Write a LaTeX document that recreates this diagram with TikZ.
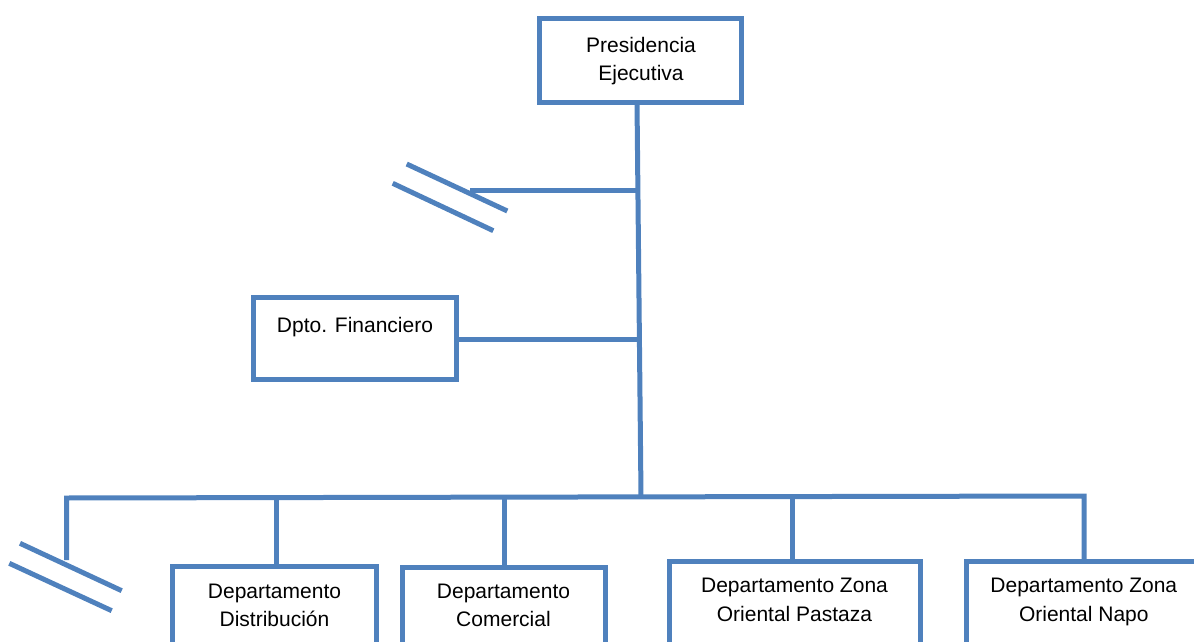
\documentclass[tikz,border=0pt]{standalone}
\usepackage{fontspec}
\setmainfont{Liberation Sans}
\definecolor{orgblue}{HTML}{4F81BD}
\begin{document}
\begin{tikzpicture}[x=1pt,y=-1pt,
  box/.style={draw=orgblue, line width=5pt, rectangle, inner sep=0pt, fill=white},
  txt/.style={font=\fontsize{21}{28.3}\selectfont, align=center, inner sep=0pt, anchor=north, text=black},
  conn/.style={draw=orgblue, line width=5pt},
  slash/.style={draw=orgblue, line width=5pt}]
\useasboundingbox (0,0) rectangle (1194,642);
\clip (0,0) rectangle (1194,642);
% boxes
\node[box, minimum width=201.5pt, minimum height=83.5pt] (pres) at (640.25,60.75) {};
\node[box, minimum width=203pt, minimum height=82.5pt] (fin) at (355,338.25) {};
\node[box, minimum width=204pt, minimum height=120pt] (dist) at (274.5,626.7) {};
\node[box, minimum width=203.3pt, minimum height=120pt] (com) at (504.15,627) {};
\node[box, minimum width=250.5pt, minimum height=120pt] (pas) at (794.75,621) {};
\node[box, minimum width=236pt, minimum height=120pt] (napo) at (1084,621.5) {};
% texts
\node[txt] (presT) at (641,36.7) {Presidencia\\Ejecutiva};
\node[txt] (finT) at (355,316.7) {Dpto. Financiero};
\node[txt] (distT) at (274.5,584) {Departamento\\Distribución};
\node[txt] (comT) at (503.5,584) {Departamento\\Comercial};
\node[txt] (pasT) at (794.5,578.3) {Departamento Zona\\Oriental Pastaza};
\node[txt] (napoT) at (1083.8,578.3) {Departamento Zona\\Oriental Napo};
% coordinates
\coordinate (tTop) at (637,102);
\coordinate (tBot) at (641,496);
\coordinate (upJ) at (638.2,190.5);
\coordinate (upL) at (470,190.5);
\coordinate (finJ) at (639,339.3);
\coordinate (busL) at (66.5,498);
\coordinate (busR) at (1084,496);
\coordinate (leftEnd) at (66.5,560);
% trunk
\draw[conn] (tTop) -- (tBot);
% branches
\draw[conn] (upL) -- (upJ);
\draw[conn] (fin.east |- finJ) -- (finJ);
% bus
\draw[conn] (leftEnd) -- (busL) -- (busR) -- (napo.north);
% drops
\draw[conn] (276,497.7) -- (276,564.2);
\draw[conn] (504,497.2) -- (504,564.5);
\draw[conn] (792,496.6) -- (792,558.5);
% slashes
\draw[slash] (406.7,164) -- (507.3,211);
\draw[slash] (392.7,183.3) -- (493.3,230.7);
\draw[slash] (20,543.3) -- (121.7,590.7);
\draw[slash] (9.3,563.3) -- (111.7,610.7);
\end{tikzpicture}
\end{document}
